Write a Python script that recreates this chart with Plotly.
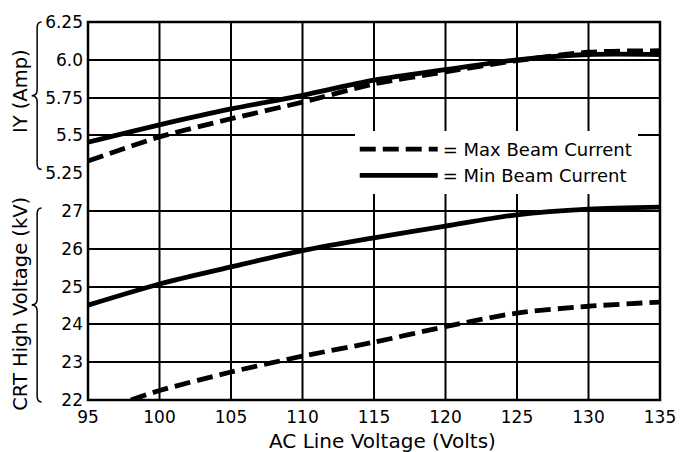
import plotly.graph_objects as go

# ---------------- data ----------------
x_ticks = [95, 100, 105, 110, 115, 120, 125, 130, 135]
volts = [95, 100, 105, 110, 115, 120, 125, 130, 135]
iy_max_beam = [5.33, 5.49, 5.61, 5.72, 5.84, 5.92, 5.995, 6.05, 6.06]
iy_min_beam = [5.455, 5.57, 5.675, 5.765, 5.865, 5.935, 6.0, 6.035, 6.035]
hv_max_volts = [98, 100, 105, 110, 115, 120, 125, 130, 135]
hv_max_beam = [22.0, 22.25, 22.74, 23.16, 23.53, 23.94, 24.3, 24.48, 24.59]
hv_min_beam = [24.51, 25.07, 25.52, 25.95, 26.29, 26.6, 26.9, 27.05, 27.1]
iy_ticks = [5.25, 5.5, 5.75, 6.0, 6.25]
iy_tick_labels = ["5.25", "5.5", "5.75", "6.0", "6.25"]
hv_ticks = [22, 23, 24, 25, 26, 27]
hv_tick_labels = ["22", "23", "24", "25", "26", "27"]
legend_names = ["= Max Beam Current", "= Min Beam Current"]

FONT = "DejaVu Sans"
W, H = 688, 452
ML, MR, MT, MB = 88, 21, 18, 52
PW, PH = W - ML - MR, H - MT - MB


def px(xp, yp):
    return (xp - ML) / PW, (H - MB - yp) / PH


def brace_path(xe, xm, xc, yt, yb, r):
    yc = (yt + yb) / 2
    pts = [
        ("M", [(xe, yt)]),
        ("Q", [(xm, yt), (xm, yt + r)]),
        ("L", [(xm, yc - r)]),
        ("Q", [(xm, yc), (xc, yc)]),
        ("Q", [(xm, yc), (xm, yc + r)]),
        ("L", [(xm, yb - r)]),
        ("Q", [(xm, yb), (xe, yb)]),
    ]
    s = ""
    for cmd, pl in pts:
        s += cmd + " " + " ".join("%.5f,%.5f" % px(a, b) for a, b in pl) + " "
    return s.strip()


dash = "16px,7px"
lw = 4.8

fig = go.Figure()
fig.add_trace(go.Scatter(x=volts, y=iy_max_beam, mode="lines", yaxis="y2",
                         name=legend_names[0], legendgroup="max",
                         line=dict(color="black", width=lw, dash=dash, shape="spline", smoothing=0.8)))
fig.add_trace(go.Scatter(x=volts, y=iy_min_beam, mode="lines", yaxis="y2",
                         name=legend_names[1], legendgroup="min",
                         line=dict(color="black", width=lw, shape="spline", smoothing=0.8)))
fig.add_trace(go.Scatter(x=hv_max_volts, y=hv_max_beam, mode="lines", yaxis="y",
                         name=legend_names[0], legendgroup="max", showlegend=False,
                         line=dict(color="black", width=lw, dash=dash, shape="spline", smoothing=0.8)))
fig.add_trace(go.Scatter(x=volts, y=hv_min_beam, mode="lines", yaxis="y",
                         name=legend_names[1], legendgroup="min", showlegend=False,
                         line=dict(color="black", width=lw, shape="spline", smoothing=0.8)))

shapes = []
# vertical grid lines running through the whole plot (both panels)
for v in x_ticks[1:-1]:
    shapes.append(dict(type="line", xref="x", yref="paper", x0=v, x1=v, y0=0, y1=1,
                       line=dict(color="black", width=2), layer="below"))
# outer frame
shapes.append(dict(type="rect", xref="paper", yref="paper", x0=0, x1=1, y0=0, y1=1,
                   line=dict(color="black", width=2.5)))
# braces
shapes.append(dict(type="path", xref="paper", yref="paper",
                   path=brace_path(41, 36.5, 31, 18, 167, 6), line=dict(color="black", width=1.5)))
shapes.append(dict(type="path", xref="paper", yref="paper",
                   path=brace_path(41, 36.5, 31, 206, 402, 6), line=dict(color="black", width=1.5)))

ax_font = dict(family=FONT, size=17, color="black")

fig.update_layout(
    width=W, height=H,
    margin=dict(l=ML, r=MR, t=MT, b=MB),
    paper_bgcolor="white", plot_bgcolor="white",
    font=dict(family=FONT, color="black"),
    xaxis=dict(range=[95, 135], tickvals=x_ticks, showgrid=False, zeroline=False,
               showline=False, ticks="", tickfont=ax_font, anchor="y", ticklabelstandoff=5),
    # bottom panel: 22..27 occupies [0, 0.5]; range extended a bit so the curve
    # just above 27 is not clipped (scale unchanged: 0.1 paper per kV)
    yaxis=dict(domain=[0, 0.52], range=[22, 27.2], tickvals=hv_ticks, ticktext=hv_tick_labels,
               showgrid=True, gridcolor="black", gridwidth=2, zeroline=False,
               ticks="", tickfont=ax_font, ticklabelstandoff=4),
    yaxis2=dict(domain=[0.6, 1.0], range=[5.25, 6.25], tickvals=iy_ticks, ticktext=iy_tick_labels,
                showgrid=True, gridcolor="black", gridwidth=2, zeroline=False,
                ticks="", tickfont=ax_font, anchor="x", ticklabelstandoff=4),
    showlegend=True,
    legend=dict(x=px(358, 0)[0], xanchor="left", y=px(0, 128)[1], yanchor="top",
                bgcolor="white", borderwidth=0, itemwidth=78,
                font=dict(family=FONT, size=18, color="black"), traceorder="normal"),
    shapes=shapes,
    annotations=[
        dict(text="AC Line Voltage (Volts)", xref="paper", yref="paper",
             x=px(386, 0)[0], y=px(0, 441)[1], xanchor="center", yanchor="middle",
             showarrow=False, font=dict(family=FONT, size=20, color="black")),
        dict(text="IY (Amp)", xref="paper", yref="paper",
             x=px(19, 0)[0], y=px(0, 88)[1], xanchor="center", yanchor="middle", textangle=-90,
             showarrow=False, font=dict(family=FONT, size=19.5, color="black")),
        dict(text="CRT High Voltage (kV)", xref="paper", yref="paper",
             x=px(19, 0)[0], y=px(0, 303)[1], xanchor="center", yanchor="middle", textangle=-90,
             showarrow=False, font=dict(family=FONT, size=19.5, color="black")),
    ],
)

fig.write_html("out.html", config={"displayModeBar": False},
               post_script="document.body.style.margin='0';document.body.style.overflow='hidden';")
